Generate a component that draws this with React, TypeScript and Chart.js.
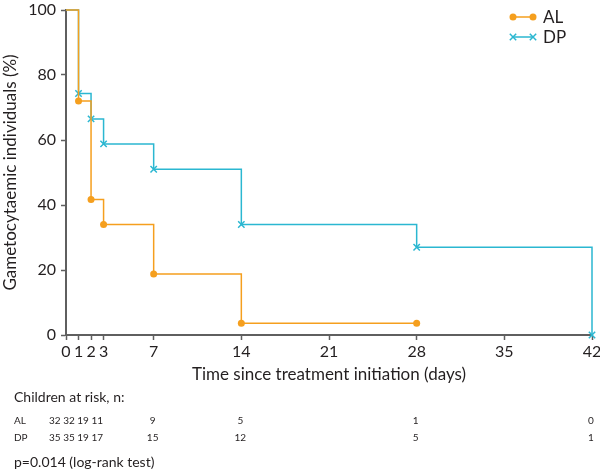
import React, { useEffect, useRef } from "react";
import { Chart, registerables } from "chart.js";

Chart.register(...registerables);

const AL_DAYS = [0, 1, 2, 3, 7, 14, 28];
const AL_SURV = [100, 72, 41.7, 34, 18.8, 3.6, 3.6];
const DP_DAYS = [0, 1, 2, 3, 7, 14, 28, 42];
const DP_SURV = [100, 74.3, 66.5, 58.8, 51, 34, 27, 0];

const X_TICKS = [0, 1, 2, 3, 7, 14, 21, 28, 35, 42];
const Y_TICKS_STEP = 20;

const RISK_DAYS = [0, 1, 2, 3, 7, 14, 28, 42];
const AL_RISK = [32, 32, 19, 11, 9, 5, 1, 0];
const DP_RISK = [35, 35, 19, 17, 15, 12, 5, 1];

const SERIES = ["AL", "DP"];
const ORANGE = "#F59F1E";
const CYAN = "#2BB7D1";
const TEXT = "#231F20";
const AXIS = "#5f5f5f";
const FONT = "Lato";

const extrasPlugin = {
  id: "extras",
  afterDraw(chart: any) {
    const ctx = chart.ctx as CanvasRenderingContext2D;
    const xs = chart.scales.x;
    ctx.save();
    // legend
    const legend = [
      { label: SERIES[0], color: ORANGE, style: "circle" },
      { label: SERIES[1], color: CYAN, style: "cross" },
    ];
    legend.forEach((l, i) => {
      const y = 17 + i * 20;
      const x0 = 513, x1 = 533;
      ctx.strokeStyle = l.color;
      ctx.fillStyle = l.color;
      ctx.lineWidth = 1.5;
      ctx.beginPath();
      ctx.moveTo(x0, y);
      ctx.lineTo(x1, y);
      ctx.stroke();
      [x0, x1].forEach((x) => {
        if (l.style === "circle") {
          ctx.beginPath();
          ctx.arc(x, y, 3.5, 0, Math.PI * 2);
          ctx.fill();
        } else {
          const r = 3.2;
          ctx.beginPath();
          ctx.moveTo(x - r, y - r);
          ctx.lineTo(x + r, y + r);
          ctx.moveTo(x - r, y + r);
          ctx.lineTo(x + r, y - r);
          ctx.stroke();
        }
      });
      ctx.fillStyle = TEXT;
      ctx.font = `17px ${FONT}`;
      ctx.textAlign = "left";
      ctx.textBaseline = "middle";
      ctx.fillText(l.label, 543, y + 1);
    });

    // risk table
    ctx.fillStyle = TEXT;
    ctx.textBaseline = "middle";
    ctx.textAlign = "left";
    ctx.font = `14px ${FONT}`;
    ctx.fillText("Children at risk, n:", 14, 397);
    const rows = [
      { label: SERIES[0], vals: AL_RISK, y: 421 },
      { label: SERIES[1], vals: DP_RISK, y: 438 },
    ];
    rows.forEach((r) => {
      ctx.font = `10px ${FONT}`;
      ctx.textAlign = "left";
      ctx.fillText(r.label, 14, r.y);
      const early = r.vals.slice(0, 4).join(" ");
      ctx.fillText(early, xs.getPixelForValue(RISK_DAYS[0]) - 17, r.y);
      ctx.textAlign = "center";
      for (let i = 4; i < RISK_DAYS.length; i++) {
        ctx.fillText(String(r.vals[i]), xs.getPixelForValue(RISK_DAYS[i]) - 1, r.y);
      }
    });
    ctx.font = `14px ${FONT}`;
    ctx.textAlign = "left";
    ctx.fillText("p=0.014 (log-rank test)", 14, 462);
    ctx.restore();
  },
};

export default function App() {
  const ref = useRef<HTMLCanvasElement | null>(null);
  useEffect(() => {
    if (!ref.current) return;
    const chart = new Chart(ref.current, {
      type: "line",
      data: {
        datasets: [
          {
            label: SERIES[0],
            data: AL_DAYS.map((d, i) => ({ x: d, y: AL_SURV[i] })),
            borderColor: ORANGE,
            backgroundColor: ORANGE,
            borderWidth: 1.5,
            stepped: "before",
            pointStyle: "circle",
            pointRadius: AL_DAYS.map((d) => (d === 0 ? 0 : 3.5)),
            pointBorderWidth: 0,
            clip: false,
          },
          {
            label: SERIES[1],
            data: DP_DAYS.map((d, i) => ({ x: d, y: DP_SURV[i] })),
            borderColor: CYAN,
            backgroundColor: CYAN,
            borderWidth: 1.5,
            stepped: "before",
            pointStyle: "crossRot",
            pointRadius: DP_DAYS.map((d) => (d === 0 ? 0 : 4.5)),
            pointBorderWidth: 1.5,
            clip: false,
          },
        ],
      },
      options: {
        animation: false,
        responsive: false,
        maintainAspectRatio: false,
        layout: { padding: { left: 0, right: 8, top: 10, bottom: 90 } },
        plugins: { legend: { display: false }, tooltip: { enabled: false } },
        scales: {
          x: {
            type: "linear",
            min: 0,
            max: 42,
            afterBuildTicks: (s: any) => {
              s.ticks = X_TICKS.map((v) => ({ value: v }));
            },
            afterFit: (s: any) => {
              s.height = 50;
              s.paddingRight = 0;
              s.paddingLeft = 0;
            },
            ticks: {
              autoSkip: false,
              maxRotation: 0,
              padding: 2,
              color: TEXT,
              font: { family: FONT, size: 16 },
            },
            grid: { drawOnChartArea: false, tickLength: 5, color: AXIS, tickWidth: 1.5 },
            border: { color: AXIS, width: 2 },
            title: {
              display: true,
              text: "Time since treatment initiation (days)",
              color: TEXT,
              font: { family: FONT, size: 17 },
              padding: { top: 0, bottom: 0 },
            },
          },
          y: {
            min: 0,
            max: 100,
            afterFit: (s: any) => {
              s.width = 66;
              s.paddingTop = 0;
              s.paddingBottom = 0;
            },
            ticks: {
              stepSize: Y_TICKS_STEP,
              padding: 5,
              color: TEXT,
              font: { family: FONT, size: 16 },
            },
            grid: { drawOnChartArea: false, tickLength: 5, color: AXIS, tickWidth: 1.5 },
            border: { color: AXIS, width: 2 },
            title: {
              display: true,
              text: "Gametocytaemic individuals (%)",
              color: TEXT,
              font: { family: FONT, size: 17 },
              padding: { top: 0, bottom: 0 },
            },
          },
        },
      },
      plugins: [extrasPlugin],
    });
    return () => chart.destroy();
  }, []);
  return (
    <div style={{ position: "absolute", left: 0, top: 0, width: 600, height: 475, background: "#fff" }}>
      <canvas ref={ref} width={600} height={475} style={{ width: 600, height: 475, display: "block" }} />
    </div>
  );
}
